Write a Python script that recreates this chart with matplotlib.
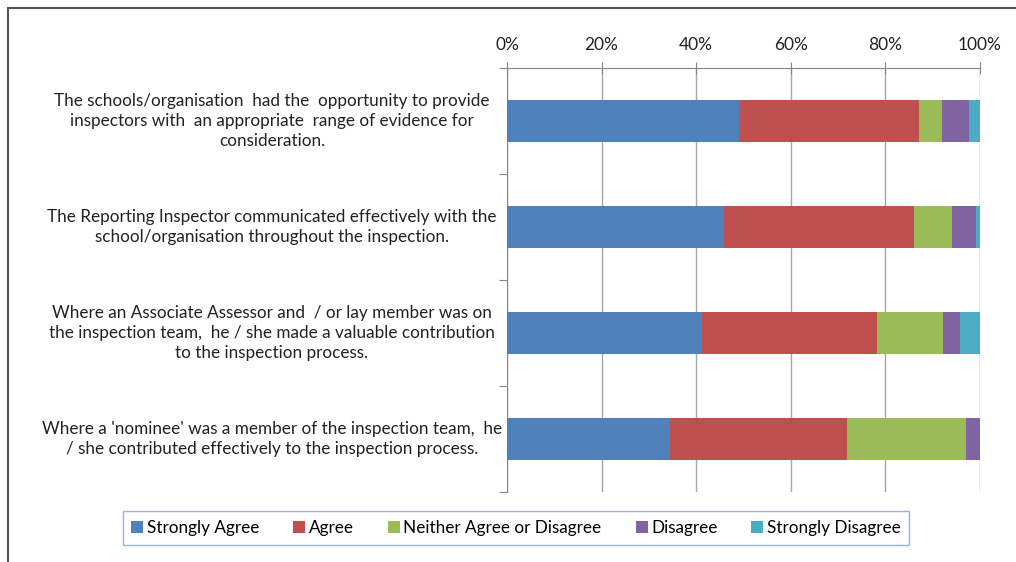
import numpy as np
import matplotlib
matplotlib.use("Agg")
from matplotlib import pyplot as plt
from matplotlib.lines import Line2D
from matplotlib.ticker import PercentFormatter

questions = [
    "The schools/organisation  had the  opportunity to provide\ninspectors with  an appropriate  range of evidence for\nconsideration.",
    "The Reporting Inspector communicated effectively with the\nschool/organisation throughout the inspection.",
    "Where an Associate Assessor and  / or lay member was on\nthe inspection team,  he / she made a valuable contribution\nto the inspection process.",
    "Where a 'nominee' was a member of the inspection team,  he\n/ she contributed effectively to the inspection process.",
]
responses = ["Strongly Agree", "Agree", "Neither Agree or Disagree", "Disagree", "Strongly Disagree"]
strongly_agree = [49.1, 45.8, 41.3, 34.4]
agree = [38.1, 40.2, 36.9, 37.5]
neither = [4.7, 8.0, 14.0, 25.1]
disagree = [5.7, 5.1, 3.6, 3.0]
strongly_disagree = [2.4, 0.9, 4.2, 0.0]
colors = ["#4F81BD", "#C0504D", "#9BBB59", "#8064A2", "#4BACC6"]

plt.rcParams['font.family'] = ['Lato', 'DejaVu Sans']

fig = plt.figure(figsize=(10.16, 5.62), dpi=100)
ax = fig.add_axes([507/1016, 1-492/562, 473/1016, 424/562])

y = np.arange(len(questions))
left = np.zeros(len(questions))
series = [strongly_agree, agree, neither, disagree, strongly_disagree]
for vals, name, c in zip(series, responses, colors):
    ax.barh(y, vals, left=left, height=0.4, color=c, label=name, zorder=3)
    left += np.array(vals)

ax.set_xlim(0, 100)
ax.set_ylim(3.5, -0.5)
ax.xaxis.tick_top()
ax.set_xticks(np.arange(0, 101, 20))
ax.xaxis.set_major_formatter(PercentFormatter(decimals=0))
ax.tick_params(axis='x', direction='inout', length=8, color='#868686',
               labelsize=12.5, labelcolor='#222222', pad=7)
ax.grid(axis='x', color='#A6A6A6', lw=1, zorder=0)

ax.set_yticks(np.arange(-0.5, 4, 1))
ax.set_yticklabels([])
ax.tick_params(axis='y', direction='out', length=6, color='#868686')
for s in ['right', 'bottom']:
    ax.spines[s].set_visible(False)
for s in ['left', 'top']:
    ax.spines[s].set_color('#868686')

for i, q in enumerate(questions):
    ax.text(-0.497, i, q, transform=ax.get_yaxis_transform(), ha='center', va='center',
            fontsize=12.3, color='#222222', linespacing=1.3)

fig.legend(loc='center', bbox_to_anchor=(516/1016, 1-528/562), ncol=5, fontsize=12.3,
           frameon=True, fancybox=False, edgecolor='#7F9FD0', handlelength=0.7,
           handleheight=0.7, handletextpad=0.2, columnspacing=2.0, borderpad=0.5)

# outer chart frame (top and left edges visible)
fig.add_artist(Line2D([8/1016, 1], [1-8/562, 1-8/562], color='#555555', lw=1.5))
fig.add_artist(Line2D([8/1016, 8/1016], [0, 1-8/562], color='#555555', lw=1.5))

fig.savefig("out.png", dpi=100)
